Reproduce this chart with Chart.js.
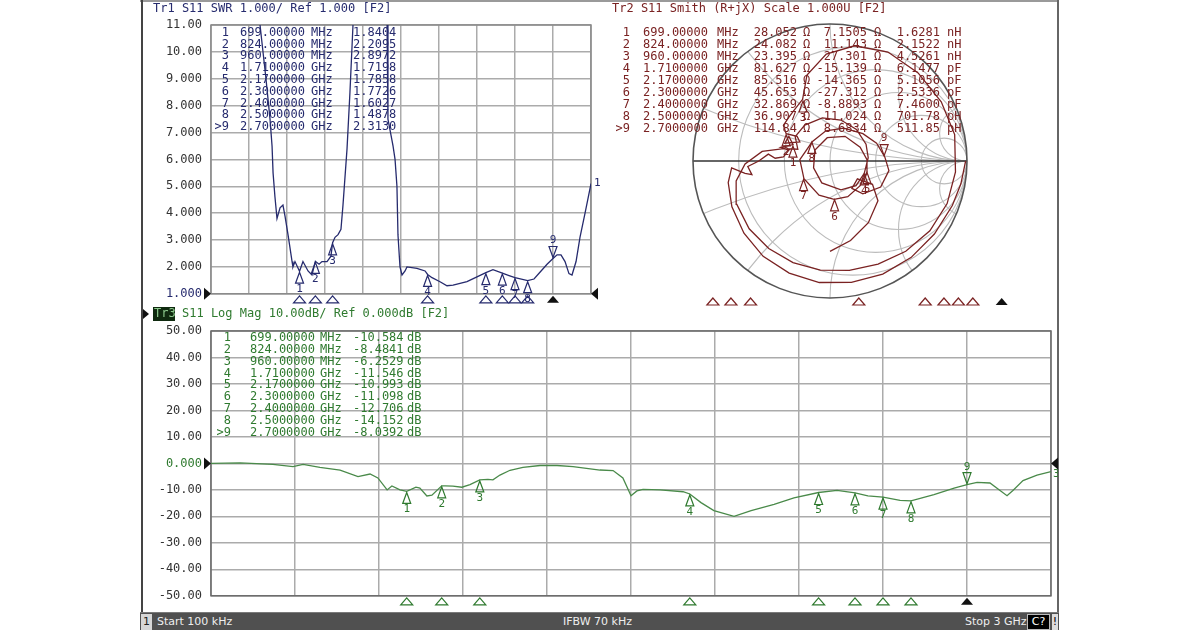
<!DOCTYPE html>
<html>
<head>
<meta charset="utf-8" />
<title>S11 - SWR / Smith / Log Mag</title>
<script src="https://cdn.jsdelivr.net/npm/chart.js@4.4.1/dist/chart.umd.min.js"></script>
<style>
  body { margin: 0; background: #ffffff; }
  #screen { position: relative; width: 1200px; height: 630px; overflow: hidden; background: #ffffff; }
  canvas { position: absolute; }
  .edge { position: absolute; }
  #status { position: absolute; left: 140px; top: 612px; width: 919px; height: 18px; background: #505050; border-top: 1px solid #7a7a7a; color: #eeeeee; font: 11px "DejaVu Sans", sans-serif; }
  #status span { position: absolute; top: 1px; height: 16px; line-height: 16px; white-space: nowrap; }
  #status .chan { left: 1px; width: 11px; background: #d6d6d6; color: #222; text-align: center; }
  #status .cbox { left: 887px; width: 21px; background: #000; color: #fff; text-align: center; border: 1px solid #bbb; height: 14px; line-height: 14px; }
  #status .ebox { left: 912px; width: 6px; background: #dddddd; color: #000; text-align: center; }
</style>
</head>
<body>
<div id="screen">
  <div class="edge" style="left:140px;top:0;width:919px;height:2px;background:#9a9a9a"></div>
  <div class="edge" style="left:141px;top:0;width:2px;height:612px;background:#444"></div>
  <div class="edge" style="left:1057px;top:0;width:2px;height:612px;background:#666"></div>
  <canvas id="swrChart" width="460" height="310" style="left:140px;top:0px"></canvas>
  <canvas id="smithChart" width="458" height="310" style="left:600px;top:0px"></canvas>
  <canvas id="logChart" width="918" height="308" style="left:140px;top:304px"></canvas>
  <div id="status">
    <span class="chan">1</span>
    <span style="left:17px">Start 100 kHz</span>
    <span style="left:423px">IFBW 70 kHz</span>
    <span style="left:825px">Stop 3 GHz</span>
    <span class="cbox">C?</span>
    <span class="ebox">!</span>
  </div>
</div>
<script>
// sweep 100 kHz .. 3 GHz, frequencies in MHz
const swrFreq = [0.1, 347, 387, 434, 466, 482, 490, 505, 521, 545, 568, 584, 608, 640, 647, 663, 699, 726, 766, 797,
  824, 853, 876, 916, 947, 960, 979, 1003, 1026, 1042, 1074, 1097, 1121, 1145, 1374, 1390, 1397, 1421, 1437, 1453,
  1468, 1476, 1492, 1508, 1532, 1547, 1626, 1690, 1710, 1745, 1808, 1863, 1911, 2021, 2108, 2170, 2226, 2300, 2353,
  2400, 2500, 2550, 2597, 2653, 2700, 2732, 2763, 2795, 2826, 2850, 2882, 2913, 2953, 3000];
const swrValue = [30, 15, 11, 9, 7.5, 6.5, 5.5, 4.6, 3.8, 4.2, 4.3, 3.9, 3.2, 2.2, 2.0, 2.2, 1.84, 2.2, 1.85, 1.7,
  2.21, 2.1, 2.2, 2.2, 2.4, 2.9, 3.1, 3.2, 3.4, 4.3, 6.4, 8.5, 11, 14, 14, 11, 7.5, 6.9, 6.5, 6.0,
  5.0, 3.2, 2.0, 1.7, 1.85, 2.0, 1.95, 1.85, 1.72, 1.6, 1.45, 1.3, 1.32, 1.45, 1.65, 1.79, 1.9, 1.77, 1.68,
  1.60, 1.49, 1.55, 1.8, 2.1, 2.31, 2.45, 2.45, 2.2, 1.75, 1.7, 2.2, 3.1, 4.0, 5.1];

const logFreq = [0.1, 104, 221, 293, 329, 389, 461, 525, 568, 596, 629, 646, 675, 699, 732, 746, 771, 789, 824, 836,
  864, 896, 925, 960, 989, 1007, 1032, 1068, 1114, 1175, 1236, 1293, 1389, 1436, 1471, 1500, 1521, 1543, 1604, 1686,
  1710, 1750, 1796, 1868, 1929, 2011, 2082, 2170, 2236, 2300, 2346, 2400, 2461, 2500, 2582, 2654, 2700, 2736, 2782,
  2818, 2843, 2864, 2900, 2950, 3000];
const logValue = [0, 0.2, -0.4, -1.2, -0.4, -1.5, -2.5, -5, -4, -5.5, -10, -8.5, -10, -10.58, -9, -9.3, -12.3, -12, -8.48, -8.5,
  -8.6, -9, -8, -6.25, -6, -6.2, -4.4, -2.6, -1.5, -0.8, -0.8, -1.2, -2.5, -2.7, -5.5, -12.2, -10.4, -9.8, -10, -10.7,
  -11.55, -14.8, -17.8, -20, -17.8, -15.5, -13, -10.99, -10.2, -11.1, -12.3, -12.7, -14, -14.15, -11.8, -9.3, -8.04, -7.2, -7.4,
  -10.2, -12.2, -10.2, -6.5, -4.4, -3.1];

// Smith trace as reflection coefficient, real and imaginary part
const smithRe = [0.99, 0.955, 0.893, 0.762, 0.591, 0.385, 0.156, -0.078, -0.298, -0.488, -0.628, -0.716, -0.743, -0.718,
  -0.62, -0.57, -0.60, -0.52, -0.45, -0.40, -0.34, -0.30, -0.36, -0.27, -0.30, -0.33, -0.22, -0.24, -0.32, -0.34, -0.30, -0.27, -0.20,
  -0.168, -0.027, 0.179, 0.423, 0.643, 0.812, 0.910, 0.916, 0.855, 0.729, 0.553, 0.351, 0.141, -0.070, -0.270, -0.447,
  -0.590, -0.680, -0.685, -0.620, -0.495, -0.338, -0.235, -0.254, -0.184, -0.056, 0.080, 0.193, 0.263, 0.279, 0.25,
  0.19, 0.08, -0.06, -0.12, -0.11, -0.02, 0.11, 0.22, 0.27, 0.27,
  0.22, 0.13, 0.03, -0.08, -0.19, -0.22, -0.13, -0.03, 0.10, 0.24, 0.34, 0.40,
  0.43, 0.37, 0.24, 0.16, 0.20, 0.31, 0.35, 0.28, 0.15, 0.00];
const smithIm = [0.00, -0.168, -0.325, -0.533, -0.705, -0.825, -0.886, -0.887, -0.818, -0.696, -0.527, -0.334, -0.158, -0.050,
  -0.09, -0.10, -0.04, 0.00, 0.05, 0.02, 0.03, 0.08, 0.10, 0.12, 0.18, 0.13, 0.14, 0.18, 0.20, 0.26, 0.32, 0.36, 0.45,
  0.628, 0.780, 0.841, 0.795, 0.643, 0.432, 0.193, -0.080, -0.311, -0.510, -0.659, -0.752, -0.798, -0.797, -0.742, -0.639,
  -0.495, -0.317, -0.146, -0.022, 0.070, 0.091, 0.086, 0.178, 0.262, 0.315, 0.299, 0.230, 0.123, 0.024, -0.09,
  -0.18, -0.21, -0.16, -0.05, 0.08, 0.17, 0.18, 0.10, 0.01, -0.08,
  -0.18, -0.26, -0.28, -0.25, -0.13, 0.01, 0.14, 0.22, 0.24, 0.20, 0.13, 0.03,
  -0.07, -0.19, -0.24, -0.20, -0.13, -0.17, -0.29, -0.45, -0.58, -0.66];

// marker readouts
const markerFreq = [699, 824, 960, 1710, 2170, 2300, 2400, 2500, 2700];
const markerSwr = [1.8404, 2.2095, 2.8972, 1.7198, 1.7858, 1.7726, 1.6027, 1.4878, 2.3130];
const markerDb = [-10.584, -8.4841, -6.2529, -11.546, -10.993, -11.098, -12.706, -14.152, -8.0392];
const markerR = [28.052, 24.082, 23.395, 81.627, 85.516, 45.653, 32.869, 36.907, 114.84];
const markerX = [7.1505, 11.143, 27.301, -15.139, -14.365, -27.312, -8.8893, 11.024, 8.6834];
const markerLC = [1.6281, 2.1522, 4.5261, 6.1477, 5.1056, 2.5336, 7.4600, 701.78, 511.85];
const markerLCUnit = ['nH', 'nH', 'nH', 'pF', 'pF', 'pF', 'pF', 'pH', 'pH'];
const activeMarker = 8;

const NAVY = '#262b6e', MAROON = '#7a2222', GREEN = '#2f7a2f', TRACE_GREEN = '#4a8a4a', GRID = '#ababab';
const MONO = '"DejaVu Sans Mono", monospace';
Chart.defaults.font.family = MONO;
Chart.defaults.font.size = 12;

function freqText(f) {
  return f < 1000 ? f.toFixed(5) + ' MHz' : (f / 1000).toFixed(7) + ' GHz';
}

function tri(ctx, x, yTip, w, h, dir, fill) {
  ctx.beginPath();
  ctx.moveTo(x, yTip);
  ctx.lineTo(x - w / 2, yTip + dir * h);
  ctx.lineTo(x + w / 2, yTip + dir * h);
  ctx.closePath();
  if (fill) ctx.fill(); else ctx.stroke();
}

function traceMarker(ctx, x, y, i, color) {
  ctx.save();
  ctx.strokeStyle = color; ctx.fillStyle = color; ctx.lineWidth = 1.2;
  ctx.font = '11px ' + MONO; ctx.textAlign = 'center'; ctx.textBaseline = 'middle';
  if (i === activeMarker) {
    tri(ctx, x, y - 1, 8, 11, -1);
    ctx.fillText(String(i + 1), x, y - 18);
  } else {
    tri(ctx, x, y + 1, 8, 11, 1);
    ctx.fillText(String(i + 1), x, y + 18);
  }
  ctx.restore();
}

function stripMarkers(ctx, xs, yTop, color) {
  ctx.save();
  ctx.strokeStyle = color; ctx.fillStyle = '#111'; ctx.lineWidth = 1.2;
  xs.forEach((x, i) => tri(ctx, x, yTop, 12, 7, 1, i === activeMarker));
  ctx.restore();
}

function refArrows(ctx, a, y) {
  ctx.save();
  ctx.fillStyle = '#111';
  ctx.beginPath(); ctx.moveTo(a.left - 7, y - 6); ctx.lineTo(a.left, y); ctx.lineTo(a.left - 7, y + 6); ctx.fill();
  ctx.beginPath(); ctx.moveTo(a.right + 7, y - 6); ctx.lineTo(a.right, y); ctx.lineTo(a.right + 7, y + 6); ctx.fill();
  ctx.restore();
}

function frame(ctx, a, color) {
  ctx.save();
  ctx.strokeStyle = color; ctx.lineWidth = 1.5;
  ctx.strokeRect(a.left, a.top, a.right - a.left, a.bottom - a.top);
  ctx.restore();
}

function text(ctx, s, x, y, color, align) {
  ctx.fillStyle = color;
  ctx.textAlign = align || 'left';
  ctx.fillText(s, x, y);
}

function gamma(r, x) {
  const zr = r / 50, zx = x / 50;
  const den = (zr + 1) * (zr + 1) + zx * zx;
  return { re: (zr * zr - 1 + zx * zx) / den, im: 2 * zx / den };
}

function freqScale(min, max, step) {
  return { type: 'linear', min: min, max: max,
    ticks: { display: false, stepSize: step },
    grid: { color: GRID, lineWidth: 1.5, drawTicks: false },
    border: { display: false },
    afterFit: s => { s.height = 0; } };
}

const baseOptions = {
  responsive: false, animation: false, events: [],
  plugins: { legend: { display: false }, tooltip: { enabled: false } }
};

// ---- Tr1 SWR ----
const swrPlugin = {
  id: 'swrDecor',
  beforeDatasetsDraw(chart) { frame(chart.ctx, chart.chartArea, '#8a8a8a'); },
  afterDraw(chart) {
    const ctx = chart.ctx, a = chart.chartArea, sx = chart.scales.x, sy = chart.scales.y;
    ctx.save();
    ctx.font = '12px ' + MONO; ctx.textBaseline = 'middle';
    text(ctx, 'Tr1 S11 SWR 1.000/ Ref 1.000 [F2]', 13, 9, NAVY);
    markerFreq.forEach((f, i) => {
      const y = 32.7 + i * 11.8;
      text(ctx, (i === activeMarker ? '>' : '') + (i + 1), 89, y, NAVY, 'right');
      const ft = freqText(f).split(' ');
      text(ctx, ft[0], 100, y, NAVY);
      text(ctx, ft[1], 171, y, NAVY);
      text(ctx, markerSwr[i].toPrecision(5), 213, y, NAVY);
    });
    markerFreq.forEach((f, i) => traceMarker(ctx, sx.getPixelForValue(f), sy.getPixelForValue(markerSwr[i]), i, NAVY));
    stripMarkers(ctx, markerFreq.map(f => sx.getPixelForValue(f)), a.bottom + 2, NAVY);
    refArrows(ctx, a, sy.getPixelForValue(1));
    ctx.font = '11px ' + MONO;
    text(ctx, '1', a.right + 3, sy.getPixelForValue(swrValue[swrValue.length - 1]), NAVY);
    ctx.restore();
  }
};

new Chart(document.getElementById('swrChart'), {
  type: 'line',
  data: { datasets: [{ data: swrFreq.map((f, i) => ({ x: f, y: swrValue[i] })),
    borderColor: NAVY, borderWidth: 1.3, pointRadius: 0, tension: 0 }] },
  options: Object.assign({}, baseOptions, {
    layout: { padding: { left: 0, right: 9, top: 25, bottom: 13 } },
    scales: {
      x: freqScale(0, 3000, 300),
      y: { min: 1, max: 11,
        ticks: { stepSize: 1, padding: 9, color: c => c.tick && c.tick.value === 1 ? NAVY : '#333',
          callback: v => v >= 10 ? v.toFixed(2) : v.toFixed(3) },
        grid: { color: GRID, lineWidth: 1.5, drawTicks: false },
        border: { display: false },
        afterFit: s => { s.width = 71; } }
    }
  }),
  plugins: [swrPlugin]
});

// ---- Tr2 Smith ----
const smithR = [0.2, 0.5, 1, 2, 5];
const smithX = [0.2, 0.5, 1, 2, 5, -0.2, -0.5, -1, -2, -5];

const smithPlugin = {
  id: 'smithDecor',
  beforeDatasetsDraw(chart) {
    const ctx = chart.ctx, sx = chart.scales.x, sy = chart.scales.y;
    const cx = sx.getPixelForValue(0), cy = sy.getPixelForValue(0), R = sx.getPixelForValue(1) - cx;
    ctx.save();
    ctx.beginPath(); ctx.arc(cx, cy, R, 0, Math.PI * 2); ctx.clip();
    ctx.strokeStyle = '#bcbcbc'; ctx.lineWidth = 1.1;
    smithR.forEach(r => {
      ctx.beginPath(); ctx.arc(cx + R * r / (1 + r), cy, R / (1 + r), 0, Math.PI * 2); ctx.stroke();
    });
    smithX.forEach(x => {
      ctx.beginPath(); ctx.arc(cx + R, cy - R / x, R / Math.abs(x), 0, Math.PI * 2); ctx.stroke();
    });
    ctx.restore();
    ctx.save();
    ctx.strokeStyle = '#333'; ctx.lineWidth = 1.3;
    ctx.beginPath(); ctx.moveTo(cx - R, cy); ctx.lineTo(cx + R, cy); ctx.stroke();
    ctx.strokeStyle = '#555'; ctx.lineWidth = 1.6;
    ctx.beginPath(); ctx.arc(cx, cy, R, 0, Math.PI * 2); ctx.stroke();
    ctx.restore();
  },
  afterDraw(chart) {
    const ctx = chart.ctx, sx = chart.scales.x, sy = chart.scales.y;
    ctx.save();
    ctx.font = '12px ' + MONO; ctx.textBaseline = 'middle';
    text(ctx, 'Tr2 S11 Smith (R+jX) Scale 1.000U [F2]', 12, 9, MAROON);
    markerFreq.forEach((f, i) => {
      const y = 33.3 + i * 11.9;
      text(ctx, (i === activeMarker ? '>' : '') + (i + 1), 30, y, MAROON, 'right');
      const ft = freqText(f).split(' ');
      text(ctx, ft[0], 43, y, MAROON);
      text(ctx, ft[1], 117, y, MAROON);
      text(ctx, markerR[i].toPrecision(5), 197, y, MAROON, 'right');
      text(ctx, '\u03a9', 203, y, MAROON);
      text(ctx, markerX[i].toPrecision(5), 267, y, MAROON, 'right');
      text(ctx, '\u03a9', 274, y, MAROON);
      text(ctx, markerLC[i].toPrecision(5), 340, y, MAROON, 'right');
      text(ctx, markerLCUnit[i], 347, y, MAROON);
    });
    markerFreq.forEach((f, i) => {
      const g = gamma(markerR[i], markerX[i]);
      traceMarker(ctx, sx.getPixelForValue(g.re), sy.getPixelForValue(g.im), i, MAROON);
    });
    stripMarkers(ctx, markerFreq.map(f => 12 + f / 3000 * 433), 298, MAROON);
    ctx.restore();
  }
};

new Chart(document.getElementById('smithChart'), {
  type: 'scatter',
  data: { datasets: [{ data: smithRe.map((re, i) => ({ x: re, y: smithIm[i] })),
    showLine: true, borderColor: MAROON, borderWidth: 1.3, pointRadius: 0, tension: 0 }] },
  options: Object.assign({}, baseOptions, {
    layout: { padding: { left: 93, right: 91, top: 24, bottom: 12 } },
    scales: {
      x: { type: 'linear', min: -1, max: 1, display: false },
      y: { type: 'linear', min: -1, max: 1, display: false }
    }
  }),
  plugins: [smithPlugin]
});

// ---- Tr3 Log Mag ----
const logPlugin = {
  id: 'logDecor',
  beforeDatasetsDraw(chart) { frame(chart.ctx, chart.chartArea, '#6a6a6a'); },
  afterDraw(chart) {
    const ctx = chart.ctx, a = chart.chartArea, sx = chart.scales.x, sy = chart.scales.y;
    ctx.save();
    ctx.font = '12px ' + MONO; ctx.textBaseline = 'middle';
    ctx.fillStyle = '#111';
    ctx.beginPath(); ctx.moveTo(3, 5); ctx.lineTo(9, 10); ctx.lineTo(3, 15); ctx.fill();
    ctx.fillStyle = '#0f2a0f'; ctx.fillRect(13, 3, 22, 14);
    text(ctx, 'Tr3', 14, 10, '#8cc88c');
    text(ctx, 'S11 Log Mag 10.00dB/ Ref 0.000dB [F2]', 42, 10, GREEN);
    markerFreq.forEach((f, i) => {
      const y = 33.7 + i * 11.9;
      text(ctx, (i === activeMarker ? '>' : '') + (i + 1), 91, y, GREEN, 'right');
      const ft = freqText(f).split(' ');
      text(ctx, ft[0], 110, y, GREEN);
      text(ctx, ft[1], 180, y, GREEN);
      text(ctx, markerDb[i].toPrecision(5), 213, y, GREEN);
      text(ctx, 'dB', 267, y, GREEN);
    });
    markerFreq.forEach((f, i) => traceMarker(ctx, sx.getPixelForValue(f), sy.getPixelForValue(markerDb[i]), i, GREEN));
    stripMarkers(ctx, markerFreq.map(f => sx.getPixelForValue(f)), a.bottom + 2, GREEN);
    refArrows(ctx, a, sy.getPixelForValue(0));
    ctx.font = '11px ' + MONO;
    text(ctx, '3', a.right + 2, sy.getPixelForValue(logValue[logValue.length - 1]) + 3, GREEN);
    ctx.restore();
  }
};

new Chart(document.getElementById('logChart'), {
  type: 'line',
  data: { datasets: [{ data: logFreq.map((f, i) => ({ x: f, y: logValue[i] })),
    borderColor: TRACE_GREEN, borderWidth: 1.3, pointRadius: 0, tension: 0 }] },
  options: Object.assign({}, baseOptions, {
    layout: { padding: { left: 0, right: 7, top: 27, bottom: 11 } },
    scales: {
      x: freqScale(0, 3000, 300),
      y: { min: -50, max: 50,
        ticks: { stepSize: 10, padding: 9, color: c => c.tick && c.tick.value === 0 ? GREEN : '#333',
          callback: v => v === 0 ? '0.000' : v.toFixed(2) },
        grid: { color: GRID, lineWidth: 1.5, drawTicks: false },
        border: { display: false },
        afterFit: s => { s.width = 71; } }
    }
  }),
  plugins: [logPlugin]
});
</script>
</body>
</html>
